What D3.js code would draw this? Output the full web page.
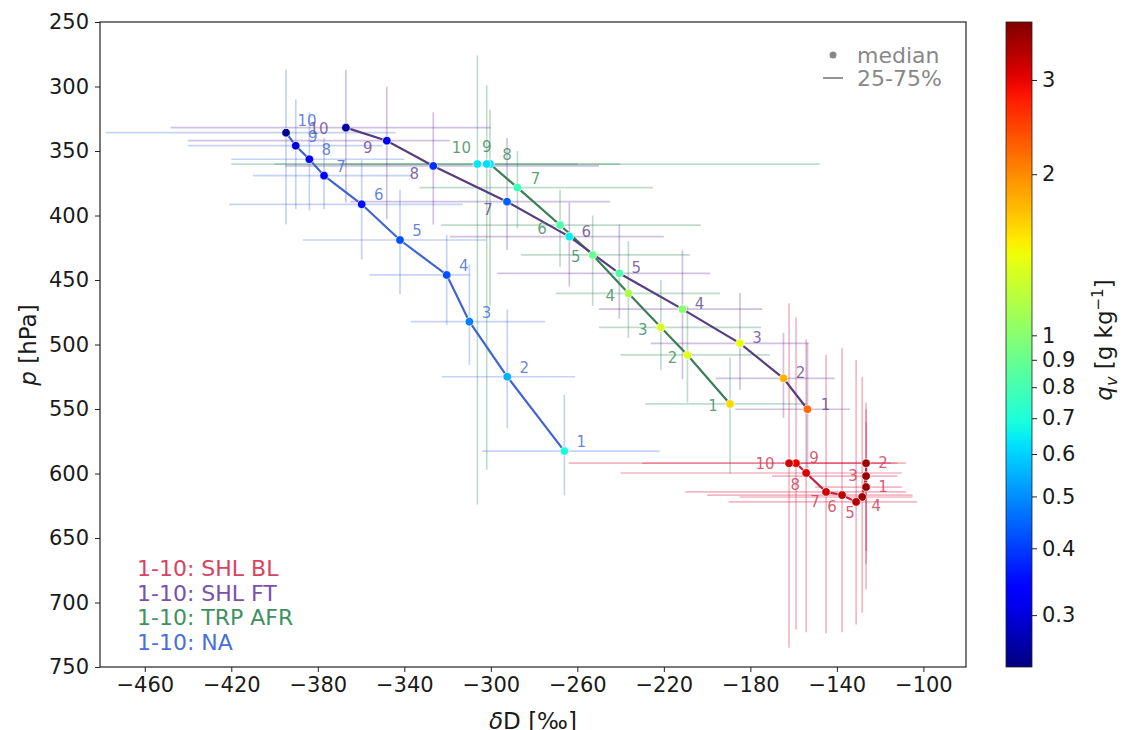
<!DOCTYPE html>
<html><head><meta charset="utf-8">
<script src="https://cdn.jsdelivr.net/npm/d3@7"></script>
<style>body{margin:0;background:#fff;} text{font-family:"DejaVu Sans",sans-serif;}</style>
</head><body>
<svg id="c" width="1125" height="730"></svg>
<script>
// ---------------- data ----------------
const steps = ["1","2","3","4","5","6","7","8","9","10"];
const xTicks = [-460,-420,-380,-340,-300,-260,-220,-180,-140,-100];
const yTicks = [250,300,350,400,450,500,550,600,650,700,750];
const cbTicks = [3,2,1,0.9,0.8,0.7,0.6,0.5,0.4,0.3];
const legendNames = ["1-10: SHL BL","1-10: SHL FT","1-10: TRP AFR","1-10: NA"];

// NA
const naD   = [-266,-292.4,-309.9,-320.4,-342,-359.7,-377.1,-383.9,-390.2,-394.7];
const naP   = [582.6,525,482.3,446.1,419,391.3,369.1,356.4,345.9,335.8];
const naQ   = [0.69,0.55,0.48,0.42,0.42,0.35,0.33,0.32,0.30,0.25];
const naD25 = [-304,-322.7,-337,-356,-387,-421,-410,-420,-440,-478];
const naD75 = [-222,-261,-275,-310,-302,-313,-336,-340,-350,-344];
const naP25 = [539,473,438,415,380,357,340,320,310,287];
const naP75 = [617,565,516,485,461,434,395,396,395,407];
// SHL FT
const ftD   = [-153.6,-164.7,-184.8,-211.4,-240.6,-263.7,-292.5,-326.6,-348.1,-367];
const ftP   = [550.2,526.2,499.1,472.6,444.8,416.4,389.3,361.6,342,331.9];
const ftQ   = [2.2,1.77,1.38,1.0,0.81,0.65,0.44,0.385,0.33,0.26];
const ftD25 = [-187,-196,-226,-250,-297,-319,-365,-395,-440,-448];
const ftD75 = [-134,-141,-153,-174.5,-198.6,-220,-245,-250,-319,-300];
const ftP25 = [499,491,460,427,407,390,340,320,300,287];
const ftP75 = [597,557,535,527,480,455,427,407,403,390];
// TRP AFR
const trD   = [-189.4,-209.1,-221.4,-236.4,-252.9,-268,-287.7,-300.4,-301.9,-306.2];
const trP   = [546.1,508.1,486.7,460.3,430.6,407.4,378.4,360.1,360.1,360.1];
const trQ   = [1.58,1.34,1.3,1.13,0.91,0.83,0.77,0.62,0.62,0.64];
const trD25 = [-228.6,-240,-250,-270,-286,-323,-333,-400,-420,-370];
const trD75 = [-153.8,-171,-175,-194,-208,-203,-225,-148,-260,-240];
const trP25 = [510,470,450,420,400,380,350,318,299,276];
const trP75 = [600,545,520,495,470,440,410,470,597,624];
// SHL BL
const blD   = [-126.5,-126.5,-126.5,-128.3,-131.1,-137.6,-145,-154.2,-158.9,-162.1];
const blP   = [610.5,592,602,618.2,622,616.7,614.3,599.6,592,592];
const blQ   = [3.6,3.6,3.6,3.6,3.4,3.3,3.2,3.1,3.0,3.2];
const blD25 = [-150,-165,-170,-185,-190,-200,-210,-240,-230,-264];
const blD75 = [-110,-108,-112,-105,-103,-105,-108,-110,-112,-115];
const blP25 = [560,545,550,525,512,503,508,496,479,468];
const blP75 = [670,660,690,708,717,723,724,723,721,735];

// ---------------- styles / layout ----------------
const L = 100, R = 966, T = 22, B = 667;
const svg = d3.select("#c");
const x = d3.scaleLinear().domain([-480.7,-80.3]).range([L,R]);
const y = d3.scaleLinear().domain([250,750]).range([T,B]);
const cbY = d3.scaleLog().domain([0.24,3.85]).range([B,T]);
const tNorm = d3.scaleLog().domain([0.24,3.85]).range([0,1]).clamp(true);

function seg(pts,t){ for(let i=1;i<pts.length;i++){ if(t<=pts[i][0]){ const a=pts[i-1],b=pts[i]; return a[1]+(b[1]-a[1])*(t-a[0])/(b[0]-a[0]); } } return pts[pts.length-1][1]; }
const jR=[[0,0],[0.35,0],[0.66,1],[0.89,1],[1,0.5]];
const jG=[[0,0],[0.125,0],[0.375,1],[0.64,1],[0.91,0],[1,0]];
const jB=[[0,0.5],[0.11,1],[0.34,1],[0.65,0],[1,0]];
function jet(t){ return d3.rgb(255*seg(jR,t),255*seg(jG,t),255*seg(jB,t)).toString(); }
const qColor = q => jet(tNorm(q));

const series = [
 {name:"NA", D:naD,P:naP,Q:naQ,D25:naD25,D75:naD75,P25:naP25,P75:naP75, bar:"#4169e1", line:"#4064d0", text:"#4a6fd8",
  off:[[17,-9],[17,-9],[17,-9],[17,-9],[17,-9],[17,-9],[17,-9],[17,-9],[17,-9],[21,-12]]},
 {name:"TRP", D:trD,P:trP,Q:trQ,D25:trD25,D75:trD75,P25:trP25,P75:trP75, bar:"#2e8b57", line:"#3a7f55", text:"#3f8f5e",
  off:[[-17,2],[-15,3],[-18,3],[-18,3],[-17,2],[-18,4],[18,-9],[17,-9],[0,-17],[-16,-16]]},
 {name:"FT", D:ftD,P:ftP,Q:ftQ,D25:ftD25,D75:ftD75,P25:ftP25,P75:ftP75, bar:"#663399", line:"#553d80", text:"#6a4e96",
  off:[[18,-4],[17,-5],[17,-5],[17,-5],[17,-5],[17,-5],[-19,8],[-19,8],[-19,7],[-27,1]]},
 {name:"BL", D:blD,P:blP,Q:blQ,D25:blD25,D75:blD75,P25:blP25,P75:blP75, bar:"#dc143c", line:"#c8203c", text:"#d0405c",
  off:[[17,0],[17,0],[-13,0],[14,9],[-6,11],[-10,12],[-11,10],[-11,12],[18,-5],[-24,1]]}
];

// clip
svg.append("defs").append("clipPath").attr("id","clip").append("rect").attr("x",L).attr("y",T).attr("width",R-L).attr("height",B-T);
const plot = svg.append("g").attr("clip-path","url(#clip)");

// error bars
series.forEach(s=>{
  const g = plot.append("g").attr("stroke",s.bar).attr("stroke-opacity",0.3).attr("stroke-width",1.7);
  g.selectAll("line.h").data(steps).join("line").attr("class","h")
    .attr("x1",(d,i)=>x(s.D25[i])).attr("x2",(d,i)=>x(s.D75[i]))
    .attr("y1",(d,i)=>y(s.P[i])).attr("y2",(d,i)=>y(s.P[i]));
  g.selectAll("line.v").data(steps).join("line").attr("class","v")
    .attr("x1",(d,i)=>x(s.D[i])).attr("x2",(d,i)=>x(s.D[i]))
    .attr("y1",(d,i)=>y(s.P25[i])).attr("y2",(d,i)=>y(s.P75[i]));
});
// lines
series.forEach(s=>{
  const ln = d3.line().x((d,i)=>x(s.D[i])).y((d,i)=>y(s.P[i]));
  plot.append("path").datum(steps).attr("d",ln).attr("fill","none").attr("stroke",s.line).attr("stroke-width",2.2);
});
// points
series.forEach(s=>{
  plot.append("g").selectAll("circle").data(steps).join("circle")
    .attr("cx",(d,i)=>x(s.D[i])).attr("cy",(d,i)=>y(s.P[i])).attr("r",4.3)
    .attr("fill",(d,i)=>qColor(s.Q[i])).attr("stroke","#fff").attr("stroke-width",0.7);
});
// labels
series.forEach(s=>{
  svg.append("g").selectAll("text").data(steps).join("text")
    .attr("x",(d,i)=>x(s.D[i])+s.off[i][0]).attr("y",(d,i)=>y(s.P[i])+s.off[i][1])
    .attr("text-anchor","middle").attr("dominant-baseline","central")
    .attr("font-size",15).attr("fill",s.text).attr("fill-opacity",0.85).text(d=>d);
});

// axes
const fmt = d => d<0 ? "\u2212"+Math.abs(d) : String(d);
const ax = svg.append("g").attr("transform",`translate(0,${B})`)
  .call(d3.axisBottom(x).tickValues(xTicks).tickFormat(fmt).tickSize(5).tickPadding(5));
const ay = svg.append("g").attr("transform",`translate(${L},0)`)
  .call(d3.axisLeft(y).tickValues(yTicks).tickSize(5).tickPadding(6));
[ax,ay].forEach(a=>{ a.select(".domain").remove(); a.selectAll("text").attr("font-size",21).attr("fill","#1a1a1a").attr("font-family","DejaVu Sans"); a.selectAll("line").attr("stroke","#222"); });
svg.append("rect").attr("x",L).attr("y",T).attr("width",R-L).attr("height",B-T).attr("fill","none").attr("stroke","#222").attr("stroke-width",1.2);

// axis labels
const yl = svg.append("text").attr("transform","translate(36,345) rotate(-90)").attr("text-anchor","middle").attr("font-size",23).attr("fill","#1a1a1a");
yl.append("tspan").attr("font-style","italic").text("p");
yl.append("tspan").text(" [hPa]");
const xl = svg.append("text").attr("x",533).attr("y",729).attr("text-anchor","middle").attr("font-size",23).attr("fill","#1a1a1a");
xl.append("tspan").attr("font-style","italic").text("\u03b4");
xl.append("tspan").text("D [\u2030]");

// top-right legend
svg.append("circle").attr("cx",833).attr("cy",55).attr("r",3.5).attr("fill","#888");
svg.append("line").attr("x1",823).attr("x2",843).attr("y1",78).attr("y2",78).attr("stroke","#888").attr("stroke-width",1.8);
svg.append("text").attr("x",857).attr("y",63).attr("font-size",22).attr("fill","#888").text("median");
svg.append("text").attr("x",857).attr("y",86).attr("font-size",22).attr("fill","#888").text("25-75%");

// bottom-left legend
const legCols = ["#d9435f","#7a50a8","#3f9160","#4a6fd8"];
svg.append("g").selectAll("text").data(legendNames).join("text")
  .attr("x",137).attr("y",(d,i)=>576+i*24.5).attr("font-size",22)
  .attr("fill",(d,i)=>legCols[i]).text(d=>d);

// colorbar
const cbX = 1006, cbW = 26;
const grad = svg.select("defs").append("linearGradient").attr("id","jet").attr("x1",0).attr("x2",0).attr("y1",1).attr("y2",0);
d3.range(0,1.0001,0.02).forEach(t=>grad.append("stop").attr("offset",t).attr("stop-color",jet(t)));
svg.append("rect").attr("x",cbX).attr("y",T).attr("width",cbW).attr("height",B-T).attr("fill","url(#jet)").attr("stroke","#222").attr("stroke-width",0.8);
const ac = svg.append("g").attr("transform",`translate(${cbX+cbW},0)`)
  .call(d3.axisRight(cbY).tickValues(cbTicks).tickFormat(d=>String(d)).tickSize(5).tickPadding(5));
ac.select(".domain").remove();
ac.selectAll("text").attr("font-size",21).attr("fill","#1a1a1a").attr("font-family","DejaVu Sans");
ac.selectAll("line").attr("stroke","#222");
const cl = svg.append("text").attr("transform","translate(1112,340) rotate(-90)").attr("text-anchor","middle").attr("font-size",23).attr("fill","#1a1a1a");
cl.append("tspan").attr("font-style","italic").text("q");
cl.append("tspan").attr("font-style","italic").attr("font-size",16).attr("dy",5).text("v");
cl.append("tspan").attr("dy",-5).text(" [g kg");
cl.append("tspan").attr("font-size",15).attr("dy",-9).text("\u22121");
cl.append("tspan").attr("dy",9).text("]");
</script>
</body></html>
